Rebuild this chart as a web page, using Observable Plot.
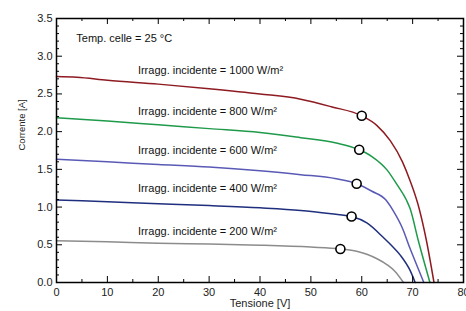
<!DOCTYPE html>
<html><head><meta charset="utf-8">
<script src="https://cdn.jsdelivr.net/npm/d3@7"></script>
<script src="https://cdn.jsdelivr.net/npm/@observablehq/plot@0.6"></script>
<style>
html,body{margin:0;padding:0;background:#fff;}
#chart svg{display:block;}
</style>
</head><body><div id="chart"></div>
<script>
// ---- data ----
const series = ["1000", "800", "600", "400", "200"];
const colors = ["#8e1b22", "#1f9a4b", "#5a5ab6", "#1f2f7e", "#8c8c8c"];

const v1000 = [0, 4, 10, 20, 30, 40, 48, 54, 60, 63, 65.6, 68, 69.5, 71, 72.7, 74.2];
const i1000 = [2.73, 2.72, 2.68, 2.63, 2.57, 2.50, 2.43, 2.33, 2.21, 2.08, 1.88, 1.60, 1.35, 1.05, 0.56, 0];

const v800 = [0, 10, 20, 30, 40, 48, 55, 59.5, 62, 65, 67, 68.8, 69.5, 71.1, 73.4];
const i800 = [2.185, 2.14, 2.09, 2.04, 1.99, 1.92, 1.85, 1.76, 1.67, 1.49, 1.29, 1.09, 0.98, 0.56, 0];

const v600 = [0, 10, 20, 30, 40, 48, 55, 59, 62, 64.8, 66.2, 68, 69.5, 71, 72.2];
const i600 = [1.635, 1.60, 1.565, 1.53, 1.48, 1.43, 1.375, 1.31, 1.21, 1.09, 0.95, 0.72, 0.45, 0.2, 0];

const v400 = [0, 10, 20, 30, 40, 48, 54, 58, 61, 64.2, 66, 67.6, 69.5, 70.5];
const i400 = [1.095, 1.07, 1.045, 1.02, 0.99, 0.955, 0.91, 0.875, 0.79, 0.60, 0.48, 0.36, 0.16, 0];

const v200 = [0, 10, 20, 30, 40, 50, 55.8, 59, 61, 63, 65, 66.5, 68.2];
const i200 = [0.555, 0.54, 0.52, 0.51, 0.495, 0.47, 0.445, 0.415, 0.375, 0.315, 0.235, 0.15, 0];

const mppV = [60, 59.5, 59, 58, 55.8];
const mppI = [2.21, 1.76, 1.31, 0.875, 0.445];

const labelText = [
  "Irragg. incidente = 1000 W/m²",
  "Irragg. incidente = 800 W/m²",
  "Irragg. incidente = 600 W/m²",
  "Irragg. incidente = 400 W/m²",
  "Irragg. incidente = 200 W/m²"
];
const labelV = [16, 16, 16, 16, 16];
const labelI = [2.81, 2.27, 1.75, 1.25, 0.68];

const tempText = "Temp. celle = 25 °C";
const tempV = 3.9, tempI = 3.24;

const xTicks = [0, 10, 20, 30, 40, 50, 60, 70, 80];
const xMinor = [5, 15, 25, 35, 45, 55, 65, 75];
const yTicks = [0, 0.5, 1.0, 1.5, 2.0, 2.5, 3.0, 3.5];
const yMinor = d3.range(0, 36).map(k => k / 10).filter(v => Math.round(v * 10) % 5 !== 0);

const xLabel = "Tensione [V]";
const yLabel = "Corrente [A]";

// ---- build ----
const W = 466, H = 311, ML = 56, MR = 3, MT = 18, MB = 29;
const FW = W - ML - MR, FH = H - MT - MB;
const vs = [v1000, v800, v600, v400, v200];
const is = [i1000, i800, i600, i400, i200];
const curves = series.flatMap((s, k) => vs[k].map((v, j) => ({s, v, i: is[k][j]})));
const mpp = mppV.map((v, k) => ({v, i: mppI[k]}));
const labels = labelText.map((t, k) => ({t, v: labelV[k], i: labelI[k]}));

const font = "'Liberation Sans', Arial, sans-serif";
const MAJ = 6, MIN = 3;

const chart = Plot.plot({
  width: W, height: H,
  marginLeft: ML, marginRight: MR, marginTop: MT, marginBottom: MB,
  style: {fontFamily: font, fontSize: "11px", color: "#222", background: "#fff"},
  x: {domain: [0, 80]},
  y: {domain: [0, 3.5]},
  color: {domain: series, range: colors},
  marks: [
    Plot.line(curves, {x: "v", y: "i", z: "s", stroke: "s", strokeWidth: 1.5, curve: "monotone-x"}),
    Plot.dot(mpp, {x: "v", y: "i", r: 4.5, fill: "white", stroke: "black", strokeWidth: 1.6}),
    Plot.text(labels, {x: "v", y: "i", text: "t", textAnchor: "start", lineAnchor: "middle", fontSize: 11, fill: "#111"}),
    Plot.text([tempText], {x: () => tempV, y: () => tempI, text: d => d, textAnchor: "start", lineAnchor: "middle", fontSize: 11, fill: "#111"}),
    // inward ticks, left & right
    Plot.tickY(yTicks, {y: d => d, insetRight: FW - MAJ, stroke: "black", strokeWidth: 1}),
    Plot.tickY(yMinor, {y: d => d, insetRight: FW - MIN, stroke: "black", strokeWidth: 1}),
    Plot.tickY(yTicks, {y: d => d, insetLeft: FW - MAJ, stroke: "black", strokeWidth: 1}),
    Plot.tickY(yMinor, {y: d => d, insetLeft: FW - MIN, stroke: "black", strokeWidth: 1}),
    // inward ticks, bottom & top
    Plot.tickX(xTicks, {x: d => d, insetTop: FH - MAJ, stroke: "black", strokeWidth: 1}),
    Plot.tickX(xMinor, {x: d => d, insetTop: FH - MIN, stroke: "black", strokeWidth: 1}),
    Plot.tickX(xTicks, {x: d => d, insetBottom: FH - MAJ, stroke: "black", strokeWidth: 1}),
    Plot.tickX(xMinor, {x: d => d, insetBottom: FH - MIN, stroke: "black", strokeWidth: 1}),
    Plot.frame({stroke: "black", strokeWidth: 1.5}),
    Plot.axisX({ticks: xTicks, tickSize: 0, tickPadding: 6, label: null, fontSize: 11}),
    Plot.axisY({ticks: yTicks, tickSize: 0, tickPadding: 4, tickFormat: d3.format(".1f"), label: null, fontSize: 11}),
    Plot.text([xLabel], {frameAnchor: "bottom", dy: 21, text: d => d, lineAnchor: "middle", fontSize: 11, fill: "#222"}),
    Plot.text([yLabel], {frameAnchor: "left", dx: -35, rotate: -90, text: d => d, lineAnchor: "middle", fontSize: 9.5, fill: "#222"})
  ]
});
document.getElementById("chart").appendChild(chart);
</script>
</body></html>
